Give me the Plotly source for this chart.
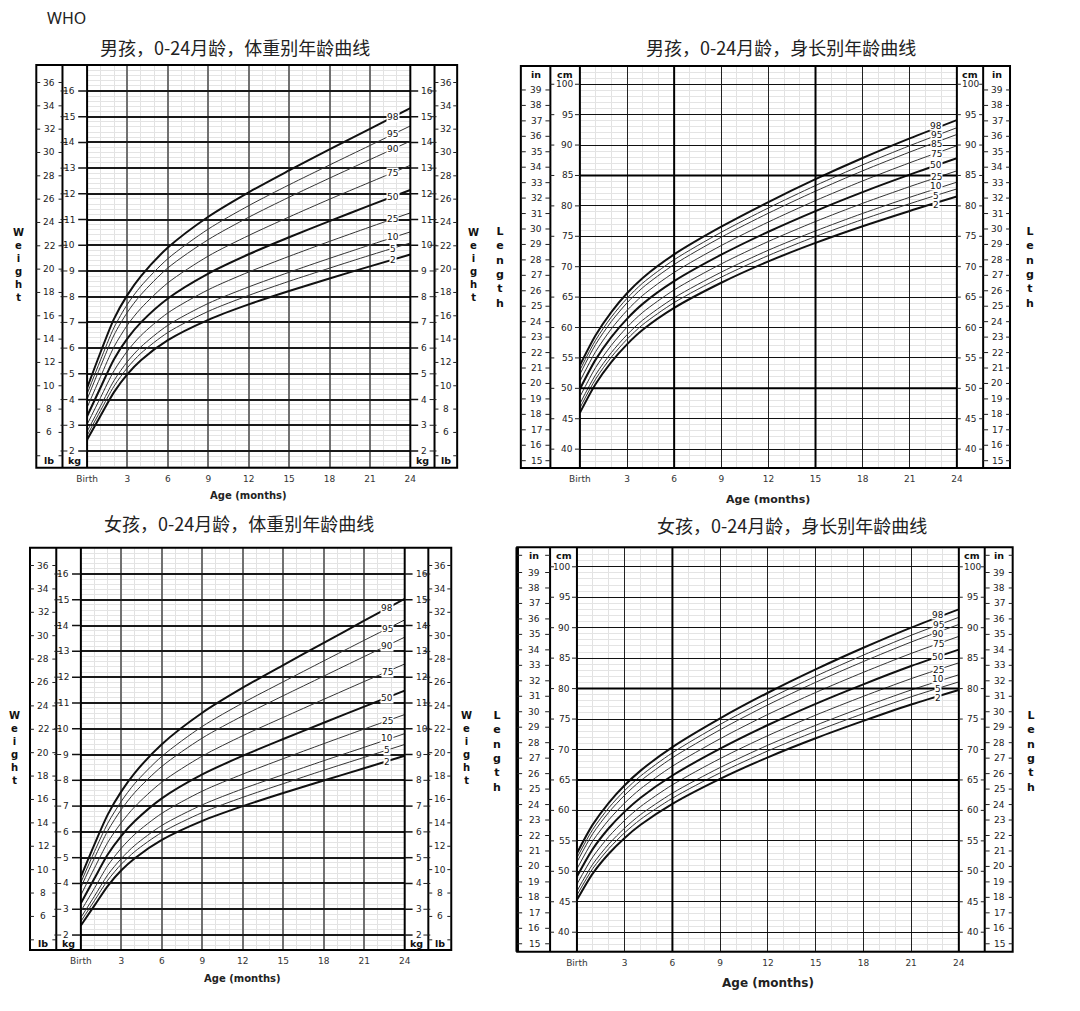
import numpy as np
import plotly.graph_objects as go

W, H = 1080, 1011
FONT = "DejaVu Sans"
CJK = "Noto Sans CJK SC"

# ---------------- data ----------------
months = [0, 1, 2, 3, 4, 6, 9, 12, 15, 18, 21, 24]
age_tick_text = {"0": "Birth"}

weight_pct_labels = ["2", "5", "10", "25", "50", "75", "90", "95", "98"]
boys_len_pct_labels = ["2", "5", "10", "25", "50", "75", "85", "95", "98"]
girls_len_pct_labels = ["2", "5", "10", "25", "50", "75", "90", "95", "98"]
bold_pcts = ["2", "50", "98"]

# boys weight-for-age (kg)
bw_p2 = [2.44, 3.37, 4.29, 4.99, 5.53, 6.31, 7.10, 7.70, 8.22, 8.71, 9.18, 9.64]
bw_p5 = [2.60, 3.57, 4.52, 5.24, 5.80, 6.61, 7.43, 8.05, 8.60, 9.11, 9.61, 10.09]
bw_p10 = [2.76, 3.75, 4.74, 5.48, 6.05, 6.89, 7.74, 8.38, 8.95, 9.49, 10.01, 10.52]
bw_p25 = [3.03, 4.08, 5.12, 5.89, 6.49, 7.37, 8.27, 8.96, 9.57, 10.15, 10.71, 11.26]
bw_p50 = [3.35, 4.47, 5.57, 6.38, 7.00, 7.93, 8.90, 9.65, 10.31, 10.94, 11.55, 12.15]
bw_p75 = [3.69, 4.89, 6.05, 6.90, 7.55, 8.54, 9.58, 10.38, 11.10, 11.79, 12.45, 13.11]
bw_p90 = [4.01, 5.29, 6.51, 7.40, 8.08, 9.12, 10.22, 11.09, 11.87, 12.61, 13.33, 14.05]
bw_p95 = [4.22, 5.54, 6.80, 7.71, 8.41, 9.48, 10.63, 11.54, 12.35, 13.12, 13.88, 14.64]
bw_p98 = [4.45, 5.84, 7.14, 8.07, 8.80, 9.91, 11.11, 12.06, 12.91, 13.73, 14.53, 15.33]

# girls weight-for-age (kg)
gw_p2 = [2.37, 3.14, 3.91, 4.51, 4.98, 5.69, 6.43, 7.00, 7.51, 7.99, 8.47, 8.95]
gw_p5 = [2.53, 3.33, 4.13, 4.75, 5.24, 5.98, 6.75, 7.34, 7.87, 8.39, 8.89, 9.39]
gw_p10 = [2.68, 3.50, 4.34, 4.97, 5.48, 6.25, 7.05, 7.67, 8.22, 8.76, 9.28, 9.81]
gw_p25 = [2.93, 3.81, 4.70, 5.37, 5.91, 6.72, 7.58, 8.24, 8.84, 9.42, 9.99, 10.55]
gw_p50 = [3.23, 4.19, 5.13, 5.85, 6.42, 7.30, 8.23, 8.95, 9.60, 10.23, 10.86, 11.48]
gw_p75 = [3.55, 4.59, 5.60, 6.36, 6.98, 7.93, 8.94, 9.73, 10.44, 11.14, 11.83, 12.51]
gw_p90 = [3.85, 4.98, 6.05, 6.87, 7.53, 8.54, 9.64, 10.50, 11.28, 12.04, 12.80, 13.55]
gw_p95 = [4.04, 5.23, 6.34, 7.19, 7.88, 8.93, 10.09, 11.00, 11.82, 12.63, 13.43, 14.22]
gw_p98 = [4.26, 5.51, 6.68, 7.57, 8.29, 9.40, 10.62, 11.59, 12.47, 13.33, 14.19, 15.04]

# boys length-for-age (cm)
bl_p2 = [45.99, 50.72, 54.31, 57.23, 59.62, 63.22, 67.36, 70.87, 73.91, 76.65, 79.17, 81.54]
bl_p5 = [46.77, 51.52, 55.13, 58.07, 60.47, 64.10, 68.28, 71.84, 74.96, 77.77, 80.36, 82.79]
bl_p10 = [47.46, 52.23, 55.86, 58.81, 61.22, 64.88, 69.10, 72.71, 75.88, 78.76, 81.41, 83.90]
bl_p25 = [48.61, 53.41, 57.07, 60.05, 62.49, 66.18, 70.46, 74.15, 77.43, 80.42, 83.17, 85.76]
bl_p50 = [49.88, 54.72, 58.42, 61.43, 63.89, 67.62, 71.97, 75.75, 79.15, 82.26, 85.13, 87.82]
bl_p75 = [51.16, 56.03, 59.77, 62.81, 65.29, 69.06, 73.48, 77.35, 80.87, 84.10, 87.09, 89.88]
bl_p85 = [52.31, 57.22, 60.98, 64.05, 66.56, 70.36, 74.85, 78.80, 82.42, 85.76, 88.85, 91.74]
bl_p95 = [53.00, 57.92, 61.71, 64.79, 67.31, 71.14, 75.66, 79.66, 83.35, 86.75, 89.90, 92.85]
bl_p98 = [53.77, 58.72, 62.53, 65.63, 68.16, 72.02, 76.58, 80.63, 84.39, 87.87, 91.09, 94.11]

# girls length-for-age (cm)
gl_p2 = [45.32, 49.67, 52.89, 55.48, 57.64, 61.08, 65.18, 68.72, 71.85, 74.70, 77.39, 79.79]
gl_p5 = [46.08, 50.47, 53.72, 56.34, 58.53, 62.00, 66.17, 69.77, 72.98, 75.90, 78.65, 81.10]
gl_p10 = [46.76, 51.18, 54.46, 57.10, 59.32, 62.83, 67.05, 70.71, 73.97, 76.96, 79.77, 82.27]
gl_p25 = [47.89, 52.37, 55.69, 58.38, 60.63, 64.20, 68.51, 72.28, 75.64, 78.73, 81.63, 84.23]
gl_p50 = [49.15, 53.69, 57.07, 59.80, 62.09, 65.73, 70.14, 74.02, 77.50, 80.70, 83.70, 86.40]
gl_p75 = [50.40, 55.01, 58.44, 61.22, 63.55, 67.26, 71.77, 75.76, 79.36, 82.67, 85.77, 88.57]
gl_p90 = [51.53, 56.19, 59.68, 62.50, 64.86, 68.64, 73.24, 77.33, 81.03, 84.44, 87.64, 90.53]
gl_p95 = [52.21, 56.90, 60.42, 63.27, 65.65, 69.46, 74.12, 78.26, 82.03, 85.50, 88.75, 91.70]
gl_p98 = [52.97, 57.70, 61.25, 64.13, 66.53, 70.39, 75.11, 79.32, 83.15, 86.70, 90.01, 93.01]

kg_ticks = list(range(2, 17))
lb_ticks = list(range(4, 37, 2))
cm_ticks = list(range(40, 101, 5))
in_ticks = list(range(15, 40))
KG_TO_LB = 2.20462
CM_PER_IN = 2.54

titles = ["男孩，0-24月龄，体重别年龄曲线", "男孩，0-24月龄，身长别年龄曲线",
          "女孩，0-24月龄，体重别年龄曲线", "女孩，0-24月龄，身长别年龄曲线"]

# ---------------- panel specs (layout in pixels) ----------------
panels = [
    dict(kind="w", series=[bw_p2, bw_p5, bw_p10, bw_p25, bw_p50, bw_p75, bw_p90, bw_p95, bw_p98],
         labels=weight_pct_labels, title=titles[0], yr=[1.35, 17.01],
         g=dict(oL=25.7, d1=52.3, pL=77.3, pR=405.7, d2=430.3, oR=453.3, top=65, bot=467.7),
         title_xy=(228, 47), age_y=495.7, age_size=10, side=(8, 470, 265), bold_grid_y=[], bold_grid_x=[]),
    dict(kind="l", series=[bl_p2, bl_p5, bl_p10, bl_p25, bl_p50, bl_p75, bl_p85, bl_p95, bl_p98],
         labels=boys_len_pct_labels, title=titles[1], yr=[36.9, 103.0],
         g=dict(oL=518, d1=548, pL=578, pR=961, d2=987.7, oR=1015, top=66, bot=468),
         title_xy=(782, 47), age_y=499, age_size=11, side=(497, 1035, 267), bold_grid_y=[50, 85], bold_grid_x=[6, 15]),
    dict(kind="w", series=[gw_p2, gw_p5, gw_p10, gw_p25, gw_p50, gw_p75, gw_p90, gw_p95, gw_p98],
         labels=weight_pct_labels, title=titles[2], yr=[1.42, 17.02],
         g=dict(oL=19.3, d1=46, pL=71, pR=400, d2=424, oR=447.3, top=547.7, bot=950),
         title_xy=(232, 523), age_y=978, age_size=10, side=(4, 463, 748), bold_grid_y=[], bold_grid_x=[]),
    dict(kind="l", series=[gl_p2, gl_p5, gl_p10, gl_p25, gl_p50, gl_p75, gl_p90, gl_p95, gl_p98],
         labels=girls_len_pct_labels, title=titles[3], yr=[36.8, 103.2],
         g=dict(oL=514.3, d1=547.7, pL=575, pR=963, d2=989.3, oR=1017.7, top=547.3, bot=951.7),
         title_xy=(793, 525), age_y=983, age_size=12, side=(494, 1036, 751), bold_grid_y=[65, 80], bold_grid_x=[6],
         in_dashes=True, thick_left=True),
]

fig = go.Figure()
layout = {}
shapes, annos = [], []


def X(px):
    return px / W


def Y(py):
    return 1 - py / H


def sfx(n):
    return "" if n == 1 else str(n)


def dash(x0, x1, v, yref, width=1, color="#222"):
    shapes.append(dict(type="line", xref="paper", yref=yref, x0=X(x0), x1=X(x1), y0=v, y1=v,
                       line=dict(color=color, width=width), layer="above"))


def tlabel(x, v, yref, text, anchor="center", size=9, bold=False):
    annos.append(dict(xref="paper", yref=yref, x=X(x), y=v, text=(f"<b>{text}</b>" if bold else text),
                      xanchor=anchor, yanchor="middle", showarrow=False,
                      font=dict(family=FONT, size=size, color="#222")))


def plabel(xpx, ypx, text, size=9.5, bold=True):
    annos.append(dict(xref="paper", yref="paper", x=X(xpx), y=Y(ypx),
                      text=(f"<b>{text}</b>" if bold else text), xanchor="center", yanchor="middle",
                      showarrow=False, font=dict(family=FONT, size=size, color="#111")))


def spread(vals, gap):
    """Push label positions apart so that neighbours keep at least `gap`."""
    pos = list(vals)
    for _ in range(200):
        moved = False
        for k in range(len(pos) - 1):
            d = pos[k + 1] - pos[k]
            if d < gap - 1e-9:
                shift = (gap - d) / 2
                pos[k] -= shift
                pos[k + 1] += shift
                moved = True
        if not moved:
            break
    return pos


LABEL_X = 22.7

for i, p in enumerate(panels, start=1):
    g = p["g"]
    xr, yr_ = f"x{sfx(i)}", f"y{sfx(i)}"
    orf = f"y{i + 4}"
    is_w = p["kind"] == "w"
    lo, hi = p["yr"]
    conv = KG_TO_LB if is_w else 1 / CM_PER_IN

    layout[f"xaxis{sfx(i)}"] = dict(
        domain=[X(g["pL"]), X(g["pR"])], range=[0, 24], anchor=yr_,
        tickmode="linear", tick0=0, dtick=3, labelalias=age_tick_text,
        ticks="outside", ticklen=1, tickcolor="rgba(0,0,0,0)", ticklabelstandoff=1,
        tickfont=dict(family=FONT, size=9, color="#333"),
        showgrid=True, gridcolor="#707070" if is_w else "#222", gridwidth=2 if is_w else 1,
        minor=dict(dtick=1, showgrid=True, gridcolor="#e2e2e2", gridwidth=1),
        zeroline=False, showline=False, fixedrange=True)
    layout[f"yaxis{sfx(i)}"] = dict(
        domain=[Y(g["bot"]), Y(g["top"])], range=[lo, hi], anchor=xr,
        tickmode="linear", tick0=0, dtick=1 if is_w else 5, showticklabels=False, ticks="",
        showgrid=True, gridcolor="#1a1a1a" if is_w else "#111", gridwidth=2 if is_w else 1,
        minor=dict(dtick=0.2 if is_w else 1, showgrid=True, gridcolor="#e4e4e4", gridwidth=1),
        zeroline=False, showline=False, fixedrange=True)
    layout[f"yaxis{i + 4}"] = dict(
        overlaying=yr_, anchor=xr, range=[lo * conv, hi * conv], showgrid=False,
        showticklabels=False, ticks="", zeroline=False, showline=False, fixedrange=True)

    # bold grid lines
    for v in p["bold_grid_y"]:
        shapes.append(dict(type="line", xref=xr, yref=yr_, x0=0, x1=24, y0=v, y1=v,
                           line=dict(color="#000", width=2), layer="above"))
    for v in p["bold_grid_x"]:
        shapes.append(dict(type="line", xref=xr, yref=yr_, x0=v, x1=v, y0=lo, y1=hi,
                           line=dict(color="#000", width=2), layer="above"))

    # percentile curves
    label_vals = [float(np.interp(LABEL_X, months, ser)) for ser in p["series"]]
    label_pos = spread(label_vals, 0.46 if is_w else 1.55)
    for lab, ser, ly in zip(p["labels"], p["series"], label_pos):
        thick = lab in bold_pcts
        fig.add_trace(go.Scatter(
            x=months, y=ser, mode="lines", xaxis=xr, yaxis=yr_, hoverinfo="skip", showlegend=False,
            line=dict(shape="spline", smoothing=0.8, width=2 if thick else 1,
                      color="#111" if thick else "#333")))
        annos.append(dict(x=LABEL_X, y=ly, xref=xr, yref=yr_, text=lab,
                          showarrow=False, xanchor="center", yanchor="middle",
                          font=dict(family=FONT, size=9, color="#111"),
                          bgcolor="white", borderpad=0, height=10 if is_w else 8))

    # panel box + column dividers
    shapes.append(dict(type="rect", xref="paper", yref="paper", x0=X(g["oL"]), x1=X(g["oR"]),
                       y0=Y(g["bot"]), y1=Y(g["top"]), line=dict(color="#000", width=2), layer="above"))
    if p.get("thick_left"):
        shapes.append(dict(type="line", xref="paper", yref="paper", x0=X(g["oL"]), x1=X(g["oL"]),
                           y0=Y(g["bot"]), y1=Y(g["top"]), line=dict(color="#000", width=3.5), layer="above"))
    for key in ["d1", "pL", "pR", "d2"]:
        shapes.append(dict(type="line", xref="paper", yref="paper", x0=X(g[key]), x1=X(g[key]),
                           y0=Y(g["bot"]), y1=Y(g["top"]), line=dict(color="#000", width=2), layer="above"))

    if is_w:
        for u in lb_ticks:
            dash(g["oL"], g["oL"] + 4, u, orf)
            dash(g["d1"] - 4, g["d1"], u, orf)
            dash(g["d2"], g["d2"] + 4, u, orf)
            dash(g["oR"] - 4, g["oR"], u, orf)
            if u >= 6:
                tlabel((g["oL"] + g["d1"]) / 2, u, orf, str(u))
                tlabel((g["d2"] + g["oR"]) / 2, u, orf, str(u))
        for v in kg_ticks:
            dash(g["d1"] - 2, g["d1"] + 5, v, yr_)
            dash(g["pL"] - 9, g["pL"], v, yr_, width=1.5, color="#111")
            tlabel(g["pL"] - 10, v, yr_, str(v), anchor="right")
            dash(g["pR"], g["pR"] + 8, v, yr_, width=1.5, color="#111")
            tlabel(g["pR"] + 9, v, yr_, str(v), anchor="left")
            dash(g["d2"] - 5, g["d2"] + 2, v, yr_)
        plabel((g["oL"] + g["d1"]) / 2, g["bot"] - 7, "lb")
        plabel((g["d1"] + g["pL"]) / 2, g["bot"] - 7, "kg")
        plabel((g["pR"] + g["d2"]) / 2, g["bot"] - 7, "kg")
        plabel((g["d2"] + g["oR"]) / 2, g["bot"] - 7, "lb")
        side_txt = "W<br>e<br>i<br>g<br>h<br>t"
        side_size = 10
    else:
        for u in in_ticks:
            dash(g["oL"], g["oL"] + 5, u, orf)
            dash(g["d1"] - 5, g["d1"], u, orf)
            tlabel((g["oL"] + g["d1"]) / 2 + 0.5, u, orf, str(u))
            dash(g["d2"], g["d2"] + 5, u, orf)
            dash(g["oR"] - 4, g["oR"], u, orf)
            tlabel((g["d2"] + g["oR"]) / 2 + 0.5, u, orf, str(u))
        for v in cm_ticks:
            dash(g["d1"], g["d1"] + 4, v, yr_)
            dash(g["pL"] - 5, g["pL"], v, yr_)
            tlabel(g["pL"] - 5, v, yr_, str(v), anchor="right")
            dash(g["pR"], g["pR"] + 4, v, yr_)
            tlabel(g["pR"] + 14, v, yr_, str(v))
            dash(g["d2"] - 4, g["d2"], v, yr_)
        hy = g["top"] + 8
        plabel((g["oL"] + g["d1"]) / 2, hy, "in")
        plabel((g["d1"] + g["pL"]) / 2, hy, "cm")
        plabel((g["pR"] + g["d2"]) / 2, hy, "cm")
        plabel((g["d2"] + g["oR"]) / 2, hy, "in")
        if p.get("in_dashes"):
            for (a, b) in [(g["oL"], g["oL"] + 5), (g["d1"] - 5, g["d1"]),
                           (g["d2"], g["d2"] + 5), (g["oR"] - 4, g["oR"])]:
                shapes.append(dict(type="line", xref="paper", yref="paper", x0=X(a), x1=X(b),
                                   y0=Y(hy), y1=Y(hy), line=dict(color="#222", width=1), layer="above"))
        side_txt = "L<br>e<br>n<br>g<br>t<br>h"
        side_size = 11

    annos.append(dict(xref="paper", yref="paper", x=X(p["title_xy"][0]), y=Y(p["title_xy"][1]),
                      text=p["title"], showarrow=False, xanchor="center", yanchor="middle",
                      font=dict(family=CJK, size=18, color="#222")))
    annos.append(dict(xref="paper", yref="paper", x=X((g["pL"] + g["pR"]) / 2), y=Y(p["age_y"]),
                      text="<b>Age (months)</b>", showarrow=False, xanchor="center", yanchor="middle",
                      font=dict(family=FONT, size=p["age_size"], color="#222")))
    sx1, sx2, sy = p["side"]
    for sx in (sx1, sx2):
        annos.append(dict(xref="paper", yref="paper", x=X(sx), y=Y(sy), text=f"<b>{side_txt}</b>",
                          showarrow=False, xanchor="center", yanchor="middle",
                          font=dict(family=FONT, size=side_size, color="#111")))

annos.append(dict(xref="paper", yref="paper", x=X(35), y=Y(18), text="WHO", showarrow=False,
                  xanchor="left", yanchor="middle", font=dict(family="Noto Sans", size=16, color="#222")))

fig.update_layout(
    width=W, height=H, autosize=False, margin=dict(l=0, r=0, t=0, b=0),
    paper_bgcolor="white", plot_bgcolor="white", showlegend=False, hovermode=False,
    shapes=shapes, annotations=annos, **layout)

fig.write_html(
    "out.html",
    config={"displayModeBar": False, "staticPlot": True, "responsive": False},
    post_script=(
        "document.documentElement.style.overflow='hidden';"
        "document.body.style.margin='0';document.body.style.overflow='hidden';"
        "var d=document.getElementById('{plot_id}');"
        "d.style.position='fixed';d.style.left='0px';d.style.top='0px';"
    ))
